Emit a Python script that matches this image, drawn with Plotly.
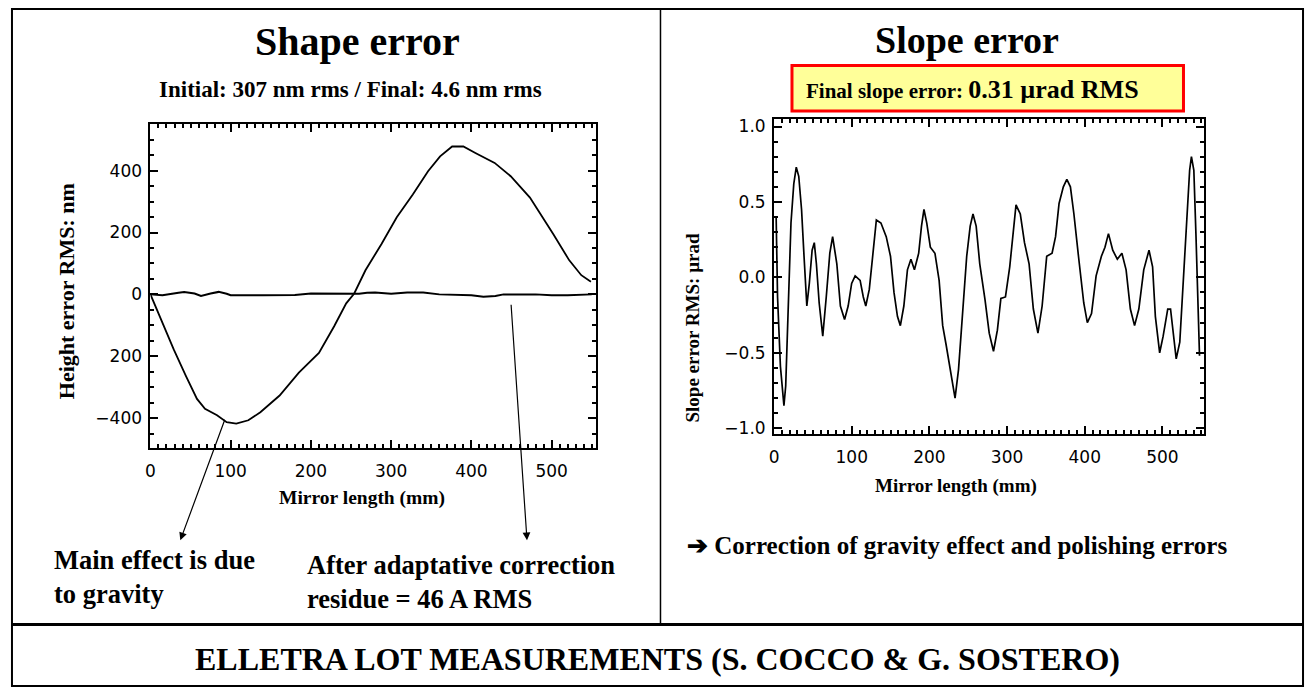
import plotly.graph_objects as go

W, H = 1309, 693

# ---------------- data ----------------
shape_x = [0, 15, 29, 44, 58, 68, 83, 95, 107, 122, 137, 161, 185, 210, 229, 244, 254,
           268, 288, 307, 327, 346, 361, 376, 390, 405, 429, 449, 473, 502, 522, 537, 549]
shape_initial = [0, -93, -178, -263, -338, -370, -391, -413, -418, -407, -381, -327, -253,
                 -189, -103, -29, 3, 78, 163, 249, 323, 398, 446, 478, 478, 457, 425, 382,
                 313, 195, 110, 62, 41]

resid_x = [0, 15, 35, 42, 55, 63, 75, 85, 95, 100, 140, 180, 200, 240, 260, 270, 280, 300,
           320, 340, 360, 400, 415, 430, 440, 480, 500, 520, 550]
shape_final = [0, -3, 5, 8, 3, -5, 3, 8, 2, -3, -3, -2, 3, 2, 2, 5, 6, 2, 6, 6, 0, -3, -8,
               -5, 0, 0, -3, -3, 0]

slope_x = [2.7, 4.5, 8.2, 12.7, 15, 18.2, 21.8, 25.4, 28.6, 31.8, 35.4, 38.6, 42.2, 45.4, 49,
           51.8, 54.5, 58.1, 62.7, 67.2, 71.8, 75.4, 80.8, 85.4, 90.8, 95.4, 99.9, 104.4,
           110.8, 114.9, 118.1, 122.6, 127.2, 131.7, 137.6, 144.4, 149.9, 154.4, 158.9,
           162.6, 167.1, 171.7, 176.2, 180.7, 186.2, 189.8, 193, 196.6, 201.2, 207.1, 212.5,
           217.1, 221.6, 227.1, 233, 237.5, 242.1, 248, 252.5, 256.1, 260.2, 264.8, 271.6,
           277, 282.5, 287.5, 292, 297.9, 303.4, 307.9, 311.5, 317, 322.4, 328.3, 333.8,
           339.7, 345.1, 351, 357.9, 362.4, 366.9, 372.4, 376.9, 381.5, 386, 391.9, 398.7,
           403.3, 408.7, 414.6, 421.4, 426, 430.5, 436, 441.9, 447.8, 453.2, 458.7, 464.1,
           469.6, 475.9, 482.7, 487.3, 490.9, 496.4, 500.9, 506.8, 510.4, 514.5, 517.7,
           522.3, 526.8, 531.3, 535, 537.3, 540.4, 543.2, 546.3, 547.7]
slope_err = [0.40, -0.13, -0.59, -0.85, -0.72, -0.15, 0.36, 0.62, 0.73, 0.67, 0.45, 0.14,
             -0.19, -0.04, 0.18, 0.23, 0.09, -0.17, -0.39, -0.13, 0.16, 0.27, 0.09, -0.19,
             -0.28, -0.19, -0.04, 0.01, -0.02, -0.13, -0.19, -0.08, 0.18, 0.38, 0.36, 0.27,
             0.14, -0.10, -0.26, -0.32, -0.19, 0.05, 0.12, 0.05, 0.16, 0.34, 0.45, 0.36, 0.20,
             0.16, -0.02, -0.32, -0.45, -0.61, -0.80, -0.61, -0.26, 0.14, 0.34, 0.42, 0.34,
             0.09, -0.15, -0.37, -0.49, -0.35, -0.14, -0.13, 0.07, 0.31, 0.48, 0.42, 0.23,
             0.09, -0.21, -0.37, -0.19, 0.14, 0.16, 0.27, 0.49, 0.60, 0.65, 0.60, 0.42, 0.14,
             -0.17, -0.30, -0.24, 0.01, 0.14, 0.20, 0.29, 0.18, 0.12, 0.16, 0.05, -0.21,
             -0.32, -0.21, 0.05, 0.18, 0.07, -0.26, -0.50, -0.39, -0.21, -0.21, -0.39, -0.54,
             -0.43, -0.04, 0.38, 0.71, 0.80, 0.71, 0.27, -0.26, -0.52]

left_xticks = [0, 100, 200, 300, 400, 500]
left_xticktext = ["0", "100", "200", "300", "400", "500"]
left_yticks = [-400, -200, 0, 200, 400]
left_yticktext = ["\u2212400", "200", "0", "200", "400"]
right_xticks = [0, 100, 200, 300, 400, 500]
right_xticktext = ["0", "100", "200", "300", "400", "500"]
right_yticks = [-1.0, -0.5, 0.0, 0.5, 1.0]
right_yticktext = ["\u22121.0", "\u22120.5", "0.0", "0.5", "1.0"]


def px(x):
    return x / W


def py(y):
    return 1 - y / H


SERIF = "Liberation Serif, Times New Roman, serif"
SANS = "DejaVu Sans, sans-serif"

fig = go.Figure()
fig.add_trace(go.Scatter(x=shape_x, y=shape_initial, mode="lines",
                         line=dict(color="black", width=1.8), xaxis="x", yaxis="y",
                         showlegend=False, hoverinfo="skip"))
fig.add_trace(go.Scatter(x=resid_x, y=shape_final, mode="lines",
                         line=dict(color="black", width=2), xaxis="x", yaxis="y",
                         showlegend=False, hoverinfo="skip"))
fig.add_trace(go.Scatter(x=slope_x, y=slope_err, mode="lines",
                         line=dict(color="black", width=1.7), xaxis="x2", yaxis="y2",
                         showlegend=False, hoverinfo="skip"))

axis_common = dict(showline=True, linecolor="black", linewidth=2, mirror="allticks",
                   ticks="inside", ticklen=8, tickwidth=1.5, tickcolor="black",
                   showgrid=False, zeroline=False, tickmode="array",
                   tickfont=dict(family=SANS, size=17, color="black"))

fig.update_layout(
    width=W, height=H, margin=dict(l=0, r=0, t=0, b=0),
    paper_bgcolor="white", plot_bgcolor="white", showlegend=False,
    xaxis=dict(domain=[px(146), px(593)], range=[0, 555], anchor="y",
               tickvals=left_xticks, ticktext=left_xticktext, ticklabelstandoff=6,
               minor=dict(dtick=10, ticklen=4, ticks="inside", tickcolor="black"),
               **axis_common),
    yaxis=dict(domain=[py(450), py(123)], range=[-497, 551], anchor="x",
               tickvals=left_yticks, ticktext=left_yticktext, ticklabelstandoff=3,
               minor=dict(dtick=50, ticklen=4, ticks="inside", tickcolor="black"),
               **axis_common),
    xaxis2=dict(domain=[px(772), px(1204)], range=[0, 554], anchor="y2",
                tickvals=right_xticks, ticktext=right_xticktext, ticklabelstandoff=6,
                minor=dict(dtick=10, ticklen=4, ticks="inside", tickcolor="black"),
                **axis_common),
    yaxis2=dict(domain=[py(436), py(118)], range=[-1.04, 1.05], anchor="x2",
                tickvals=right_yticks, ticktext=right_yticktext, ticklabelstandoff=3,
                minor=dict(dtick=0.1, ticklen=4, ticks="inside", tickcolor="black"),
                **axis_common),
)

shapes = [
    dict(type="rect", xref="paper", yref="paper", x0=px(7), x1=px(1303), y0=py(690), y1=py(7),
         line=dict(color="black", width=2)),
    dict(type="line", xref="paper", yref="paper", x0=px(658), x1=px(658), y0=py(628), y1=py(7),
         line=dict(color="black", width=1.5)),
    dict(type="line", xref="paper", yref="paper", x0=px(7), x1=px(1303), y0=py(628), y1=py(628),
         line=dict(color="black", width=3)),
    dict(type="rect", xref="paper", yref="paper", x0=px(790), x1=px(1183), y0=py(110), y1=py(64),
         fillcolor="#FFFF99", line=dict(color="#FF0000", width=3), layer="above"),
]
fig.update_layout(shapes=shapes)


def text(x, y, s, size, xanchor="center", yanchor="middle", angle=0, family=SERIF,
         align="center"):
    fig.add_annotation(x=px(x), y=py(y), xref="paper", yref="paper", text="<b>" + s + "</b>",
                       showarrow=False, xanchor=xanchor, yanchor=yanchor, textangle=angle,
                       align=align, borderpad=0,
                       font=dict(family=family, size=size, color="black"))


text(354, 40, "Shape error", 40)
text(966, 38, "Slope error", 38)
text(347, 88, "Initial: 307 nm rms / Final: 4.6 nm rms", 23)
fig.add_annotation(x=px(803), y=py(88), xref="paper", yref="paper", showarrow=False,
                   xanchor="left", yanchor="middle", borderpad=0,
                   text="<b><span style='font-size:21px'>Final slope error: </span>"
                        "<span style='font-size:26px'>0.31 \u00b5rad RMS</span></b>",
                   font=dict(family=SERIF, size=22, color="black"))
text(62, 292, "Height error RMS: nm", 22, angle=-90)
text(690, 328, "Slope error RMS: \u00b5rad", 19, angle=-90)
text(358, 500, "Mirror length (mm)", 19.5)
text(955, 488, "Mirror length (mm)", 19)
text(48, 580, "Main effect is due<br>to gravity", 26.5, xanchor="left", align="left")
text(302, 585, "After adaptative correction<br>residue = 46 A RMS", 26.5, xanchor="left",
     align="left")
text(684, 548, "\u2794 Correction of gravity effect and polishing errors", 25, xanchor="left")
text(655, 663, "ELLETRA LOT MEASUREMENTS (S. COCCO &amp; G. SOSTERO)", 32)

# arrows (head at text, tail on the curves)
for hx, hy, tx, ty in [(176, 543, 221, 421), (524, 543, 508, 306)]:
    fig.add_annotation(x=px(hx), y=py(hy), xref="paper", yref="paper", text="",
                       showarrow=True, ax=tx - hx, ay=ty - hy, arrowhead=2, arrowsize=1.3,
                       arrowwidth=1.2, arrowcolor="black", standoff=0, startstandoff=0)

fig.write_html("out.html")
